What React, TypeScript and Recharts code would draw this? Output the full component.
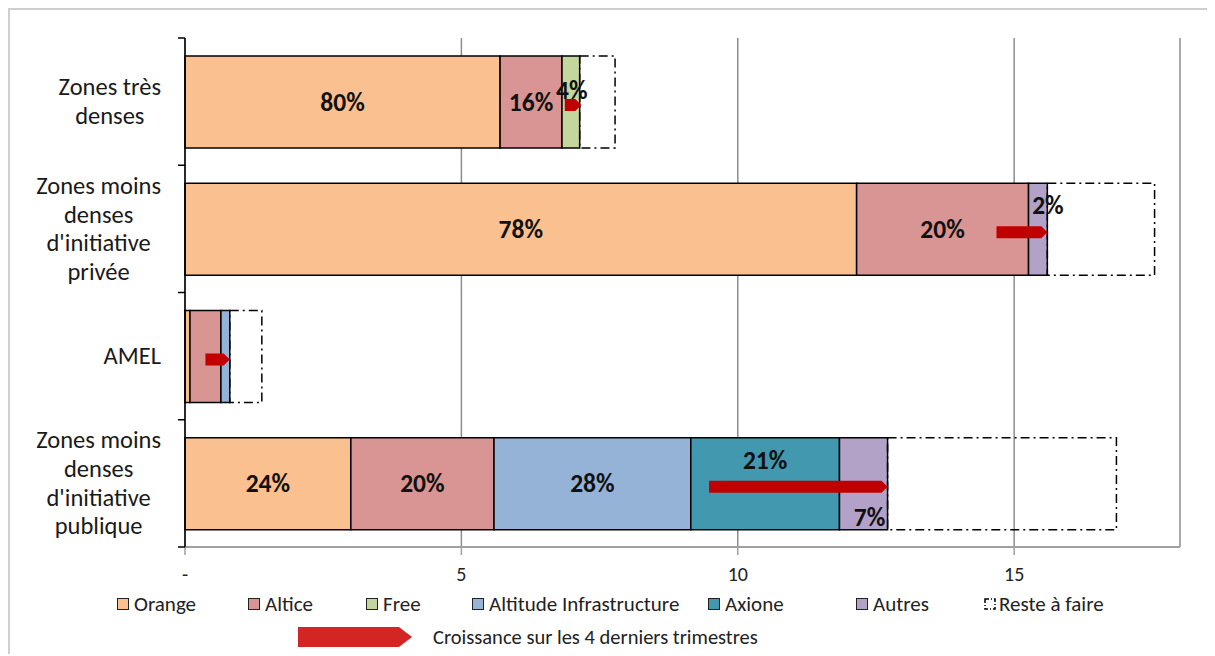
import React from 'react';
import { BarChart, Bar, XAxis, YAxis, CartesianGrid, LabelList } from 'recharts';

const categories = [
  'Zones très denses',
  "Zones moins denses d'initiative privée",
  'AMEL',
  "Zones moins denses d'initiative publique",
];
const categoryLines = [
  ['Zones très', 'denses'],
  ['Zones moins', 'denses', "d'initiative", 'privée'],
  ['AMEL'],
  ['Zones moins', 'denses', "d'initiative", 'publique'],
];

const orange = [5.7, 12.15, 0.09, 3.0];
const altice = [1.12, 3.11, 0.56, 2.59];
const free = [0.32, 0, 0, 0];
const altitude = [0, 0, 0.16, 3.56];
const axione = [0, 0, 0, 2.69];
const autres = [0, 0.34, 0, 0.87];
const reste = [0.64, 1.94, 0.58, 4.14];

const orangeLabels = ['80%', '78%', '', '24%'];
const alticeLabels = ['16%', '20%', '', '20%'];
const freeLabels = ['4%', '', '', ''];
const altitudeLabels = ['', '', '', '28%'];
const axioneLabels = ['', '', '', '21%'];
const autresLabels = ['', '2%', '', '7%'];

// croissance sur les 4 derniers trimestres (début -> fin de la flèche)
const growthStart = [6.87, 14.68, 0.37, 9.48];
const growthEnd = [7.17, 15.6, 0.81, 12.71];

const xTicks = [0, 5, 10, 15];

const data = categories.map((name, i) => ({
  name,
  orange: orange[i],
  altice: altice[i],
  free: free[i],
  altitude: altitude[i],
  axione: axione[i],
  autres: autres[i],
  reste: reste[i],
  orangeLabel: orangeLabels[i],
  alticeLabel: alticeLabels[i],
  freeLabel: freeLabels[i],
  altitudeLabel: altitudeLabels[i],
  axioneLabel: axioneLabels[i],
  autresLabel: autresLabels[i],
  growth: [growthStart[i], growthEnd[i]],
}));

const FONT = 'Carlito, Lato, sans-serif';
const COLORS = {
  orange: '#FAC090',
  altice: '#D99594',
  free: '#C3D69B',
  altitude: '#95B3D7',
  axione: '#4198AF',
  autres: '#B3A2C7',
  arrow: '#C00000',
  legendArrow: '#D42525',
};

const W = 1203;
const H = 600;
const TOP = 28;
const BOTTOM = 537;
const LEFT = 175;
const BAND = (BOTTOM - TOP) / categories.length;

let ctx: CanvasRenderingContext2D | null = null;
function textWidth(t: string, font: string) {
  if (!ctx) ctx = document.createElement('canvas').getContext('2d');
  if (!ctx) return t.length * 11;
  ctx.font = font;
  return ctx.measureText(t).width;
}

function CategoryTick(props: any) {
  const { y, payload } = props;
  const idx = categories.indexOf(payload.value);
  const lines = categoryLines[idx] || [payload.value];
  const fs = 24.5;
  const maxW = Math.max(...lines.map((l) => textWidth(l, `${fs}px ${FONT}`)));
  const cx = 151 - maxW / 2;
  const lh = 28.7;
  const y0 = y - ((lines.length - 1) * lh) / 2;
  return (
    <g>
      <line x1={LEFT - 7} x2={LEFT} y1={y - BAND / 2} y2={y - BAND / 2} stroke="#000" strokeWidth={1.5} />
      {idx === categories.length - 1 && (
        <line x1={LEFT - 7} x2={LEFT} y1={y + BAND / 2} y2={y + BAND / 2} stroke="#000" strokeWidth={1.5} />
      )}
      <text textAnchor="middle" fontFamily={FONT} fontSize={fs} fill="#1a1a1a">
        {lines.map((l, i) => (
          <tspan key={i} x={cx} y={y0 + i * lh} dominantBaseline="central">
            {l}
          </tspan>
        ))}
      </text>
    </g>
  );
}

// placement particulier de quelques étiquettes (série-catégorie)
const labelPlace: Record<string, { dx: number; from: 'top' | 'bottom'; dy: number }> = {
  'free-0': { dx: 1, from: 'top', dy: 34 },
  'autres-1': { dx: 10, from: 'top', dy: 22 },
  'axione-3': { dx: 0, from: 'top', dy: 23 },
  'autres-3': { dx: 6, from: 'bottom', dy: -12.5 },
};

const makeLabel = (series: string) => (props: any) => {
  const { x, y, width, height, value } = props;
  if (!value) return null;
  const cat = Math.floor((y + height / 2 - TOP) / BAND);
  const p = labelPlace[`${series}-${cat}`];
  let cx = x + width / 2;
  let cy = y + height / 2;
  if (p) {
    cx += p.dx;
    cy = p.from === 'top' ? y + p.dy : y + height + p.dy;
  }
  return (
    <text
      x={cx}
      y={cy}
      textAnchor="middle"
      dominantBaseline="central"
      fontFamily={FONT}
      fontWeight="bold"
      fontSize={25.5}
      fill="#111"
    >
      {value}
    </text>
  );
};

function GrowthArrow(props: any) {
  const { x, y, width, height } = props;
  if (!width) return null;
  const top = y + 3;
  const h = height;
  const tip = Math.min(6, width);
  const pts = [
    [x, top],
    [x + width - tip, top],
    [x + width, top + h / 2],
    [x + width - tip, top + h],
    [x, top + h],
  ]
    .map((p) => p.join(','))
    .join(' ');
  return <polygon points={pts} fill={COLORS.arrow} />;
}

const segments: { key: string; label?: string }[] = [
  { key: 'orange', label: 'orangeLabel' },
  { key: 'altice', label: 'alticeLabel' },
  { key: 'free', label: 'freeLabel' },
  { key: 'altitude', label: 'altitudeLabel' },
  { key: 'axione', label: 'axioneLabel' },
  { key: 'autres', label: 'autresLabel' },
];

const legendItems = [
  { name: 'Orange', color: COLORS.orange, left: 107 },
  { name: 'Altice', color: COLORS.altice, left: 238 },
  { name: 'Free', color: COLORS.free, left: 356 },
  { name: 'Altitude Infrastructure', color: COLORS.altitude, left: 462 },
  { name: 'Axione', color: COLORS.axione, left: 698 },
  { name: 'Autres', color: COLORS.autres, left: 846 },
];

const legendText: React.CSSProperties = {
  position: 'absolute',
  top: 582,
  height: 24,
  display: 'flex',
  alignItems: 'center',
  fontSize: 21,
  color: '#222',
  whiteSpace: 'nowrap',
};

export default function App() {
  return (
    <div
      style={{
        position: 'relative',
        width: 1205,
        height: 646,
        borderTop: '2px solid #cfcfcf',
        borderLeft: '2px solid #cfcfcf',
        boxSizing: 'border-box',
        fontFamily: FONT,
        background: '#fff',
      }}
    >
      <BarChart
        width={W}
        height={H}
        data={data}
        layout="vertical"
        margin={{ top: TOP, right: W - 1170, left: 0, bottom: H - BOTTOM - 40 }}
      >
        <CartesianGrid horizontal={false} stroke="#8c8c8c" strokeWidth={1.5} />
        <XAxis
          type="number"
          domain={[0, 18]}
          ticks={xTicks}
          tickFormatter={(v: number) => (v === 0 ? '-' : String(v))}
          axisLine={{ stroke: '#a0a0a0', strokeWidth: 2 }}
          tickLine={{ stroke: '#a0a0a0', strokeWidth: 1.5 }}
          tickSize={8}
          tickMargin={12}
          tick={{ fontSize: 20, fill: '#222', fontFamily: FONT }}
          height={40}
        />
        <YAxis
          type="category"
          dataKey="name"
          width={LEFT}
          interval={0}
          axisLine={{ stroke: '#000', strokeWidth: 1.5 }}
          tickLine={false}
          tick={<CategoryTick />}
        />
        <YAxis yAxisId="arrow" type="category" dataKey="name" hide />
        {segments.map((s) => (
          <Bar
            key={s.key}
            dataKey={s.key}
            stackId="a"
            fill={(COLORS as any)[s.key]}
            stroke="#000"
            strokeWidth={1.5}
            barSize={92}
            isAnimationActive={false}
          >
            <LabelList dataKey={s.label} content={makeLabel(s.key)} />
          </Bar>
        ))}
        <Bar
          dataKey="reste"
          stackId="a"
          fill="none"
          stroke="#000"
          strokeWidth={1.5}
          strokeDasharray="9 4 2 4"
          barSize={92}
          isAnimationActive={false}
        />
        <Bar
          yAxisId="arrow"
          dataKey="growth"
          barSize={12}
          shape={<GrowthArrow />}
          isAnimationActive={false}
        />
      </BarChart>

      {legendItems.map((it) => (
        <div key={it.name} style={{ ...legendText, left: it.left }}>
          <span
            style={{
              display: 'inline-block',
              width: 10,
              height: 10,
              background: it.color,
              border: '1.5px solid #222',
              marginRight: 5,
            }}
          />
          {it.name}
        </div>
      ))}
      <div style={{ ...legendText, left: 974 }}>
        <svg width={12} height={12} style={{ marginRight: 3 }}>
          <rect x={1} y={1} width={10} height={10} fill="none" stroke="#000" strokeWidth={1.5} strokeDasharray="4 2 1 2" />
        </svg>
        Reste à faire
      </div>
      <div style={{ ...legendText, left: 288, top: 615, fontSize: 20.5 }}>
        <svg width={114} height={20} style={{ marginRight: 21 }}>
          <polygon points="0,0 101,0 114,10 101,20 0,20" fill={COLORS.legendArrow} />
        </svg>
        Croissance sur les 4 derniers trimestres
      </div>
    </div>
  );
}
